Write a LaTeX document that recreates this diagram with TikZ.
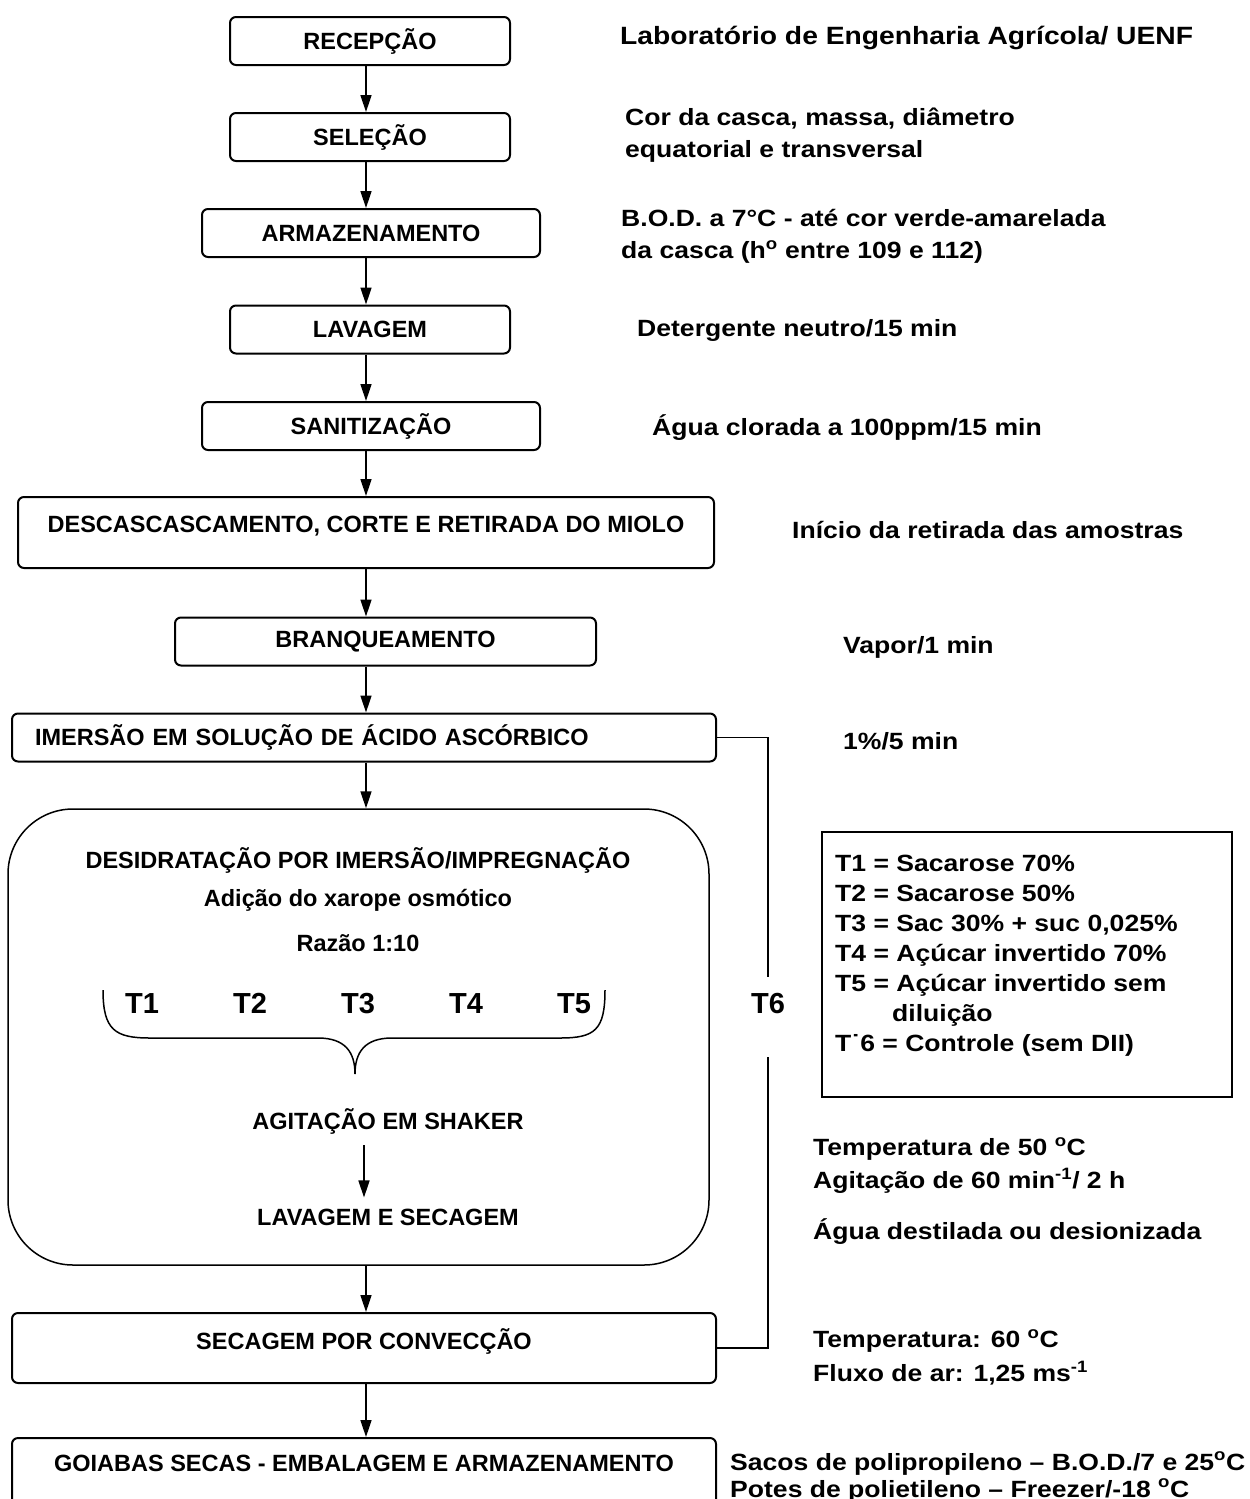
\documentclass[tikz,border=0pt]{standalone}
\usepackage{fontspec}
\setmainfont{Liberation Sans}
\newfontfamily\widefont{Liberation Sans}[FakeStretch=1.13]
\usepackage{tikz}
\usetikzlibrary{shapes, arrows.meta, positioning}
\newcommand{\expo}[1]{\textsuperscript{#1}}

\begin{document}
\begin{tikzpicture}
  [
    x=1pt, y=-1pt,
    font=\bfseries\fontsize{23.5}{28}\selectfont,
    StepBox/.style={rectangle, draw=black, line width=2pt, rounded corners=6pt, minimum height=48pt, inner sep=0pt},
    Note/.style={anchor=west, align=left, inner sep=0pt, font=\widefont\bfseries\fontsize{23.5}{32}\selectfont},
    Tee/.style={inner sep=0pt, anchor=base, font=\bfseries\fontsize{29}{34}\selectfont},
    Flow/.style={-{Triangle[length=17pt, width=11pt]}, line width=1.5pt},
    Link/.style={line width=1.5pt}
  ]
  \useasboundingbox (0, 0) rectangle (1250, 1499);
  \clip (0, 0) rectangle (1250, 1499);
  \coordinate (ax) at (366, 0);
  \coordinate (bx) at (364, 0);
  % Nodes
  \node[StepBox, minimum width=280pt] (rec) at (370, 41) {RECEPÇÃO};
  \node[StepBox, minimum width=280pt] (sel) at (370, 137) {SELEÇÃO};
  \node[StepBox, minimum width=338pt] (arm) at (371, 233) {ARMAZENAMENTO};
  \node[StepBox, minimum width=280pt] (lav) at (370, 329.5) {LAVAGEM};
  \node[StepBox, minimum width=338pt] (san) at (371, 426) {SANITIZAÇÃO};
  \node[StepBox, minimum width=696pt, text height=35.5pt, text depth=35.5pt] (desc) at (366, 532.5) {DESCASCASCAMENTO, CORTE E RETIRADA DO MIOLO};
  \node[StepBox, minimum width=421pt] (bra) at (385.5, 641.5) {BRANQUEAMENTO};
  \node[StepBox, text width=658pt, inner xsep=23pt, align=left] (imer) at (364, 737.5) {IMERSÃO EM SOLUÇÃO DE ÁCIDO ASCÓRBICO};
  \node[draw=black, line width=1.5pt, rounded corners=65pt, minimum width=701pt, minimum height=456pt, inner sep=0pt] (desbox) at (358.5, 1037) {};
  \node[inner sep=0pt] (desi) at (358, 860) {DESIDRATAÇÃO POR IMERSÃO/IMPREGNAÇÃO};
  \node[inner sep=0pt] (adi) at (358, 900) {Adição do xarope osmótico};
  \node[inner sep=0pt] (raz) at (358, 943) {Razão 1:10};
  \node[Tee] (t1) at (142, 1013.5) {T1};
  \node[Tee] (t2) at (250, 1013.5) {T2};
  \node[Tee] (t3) at (358, 1013.5) {T3};
  \node[Tee] (t4) at (466, 1013.5) {T4};
  \node[Tee] (t5) at (574, 1013.5) {T5};
  \node[inner xsep=0pt, inner ysep=11pt] (agit) at (388, 1121) {AGITAÇÃO EM SHAKER};
  \node[inner xsep=0pt, inner ysep=11pt] (lavs) at (388, 1217) {LAVAGEM E SECAGEM};
  \node[StepBox, minimum width=704pt, text height=36.5pt, text depth=33.5pt] (seca) at (364, 1348) {SECAGEM POR CONVECÇÃO};
  \node[StepBox, minimum width=704pt, text height=33.5pt, text depth=40pt, anchor=north] (goia) at (364, 1437) {GOIABAS SECAS - EMBALAGEM E ARMAZENAMENTO};
  \node[Tee, text height=36.5pt, text depth=43.5pt, anchor=north] (t6) at (768, 977) {T6};
  % Notes
  \node[Note, font=\widefont\bfseries\fontsize{25}{32}\selectfont] (n1) at (620, 38) {Laboratório de Engenharia Agrícola/ UENF};
  \node[Note] (n2) at (625, 135) {Cor da casca, massa, diâmetro\\equatorial e transversal};
  \node[Note] (n3) at (621, 236) {B.O.D. a 7°C - até cor verde-amarelada\\da casca (h\expo{o} entre 109 e 112)};
  \node[Note] (n4) at (637, 330) {Detergente neutro/15 min};
  \node[Note] (n5) at (652, 428) {Água clorada a 100ppm/15 min};
  \node[Note] (n6) at (792, 530) {Início da retirada das amostras};
  \node[Note] (n7) at (843, 647) {Vapor/1 min};
  \node[Note] (n8) at (843, 741) {1\%/5 min};
  \node[draw=black, line width=2pt, minimum width=410pt, minimum height=265pt, inner sep=0pt] (leg) at (1027, 964.5) {};
  \node[Note, anchor=north west, font=\widefont\bfseries\fontsize{23.5}{30}\selectfont] (legt) at (835, 855) {T1 = Sacarose 70\%\\T2 = Sacarose 50\%\\T3 = Sac 30\% + suc 0,025\%\\T4 = Açúcar invertido 70\%\\T5 = Açúcar invertido sem\\\hspace*{57pt}diluição\\T˙6 = Controle (sem DII)};
  \node[Note, font=\widefont\bfseries\fontsize{23.5}{33}\selectfont] (n9) at (813, 1166) {Temperatura de 50 \expo{o}C\\Agitação de 60 min\expo{-1}/ 2 h};
  \node[Note] (n10) at (813, 1232) {Água destilada ou desionizada};
  \node[Note, font=\widefont\bfseries\fontsize{23.5}{34}\selectfont] (n11) at (813, 1357) {Temperatura: 60 \expo{o}C\\Fluxo de ar: 1,25 ms\expo{-1}};
  \node[Note, font=\widefont\bfseries\fontsize{23.5}{27}\selectfont] (n12) at (730, 1477) {Sacos de polipropileno – B.O.D./7 e 25\expo{o}C\\Potes de polietileno – Freezer/-18 \expo{o}C};
  % Lines
  \draw[Flow] (rec.south -| ax) -- (sel.north -| ax);
  \draw[Flow] (sel.south -| ax) -- (arm.north -| ax);
  \draw[Flow] (arm.south -| ax) -- (lav.north -| ax);
  \draw[Flow] (lav.south -| ax) -- (san.north -| ax);
  \draw[Flow] (san.south -| ax) -- (desc.north -| ax);
  \draw[Flow] (desc.south -| ax) -- (bra.north -| ax);
  \draw[Flow] (bra.south -| ax) -- (imer.north -| ax);
  \draw[Flow] (imer.south -| ax) -- (desbox.north -| ax);
  \draw[Flow] (agit.south -| bx) -- (lavs.north -| bx);
  \draw[Flow] (desbox.south -| ax) -- (seca.north -| ax);
  \draw[Flow] (seca.south -| ax) -- (goia.north -| ax);
  \draw[Link] (imer.east) -| (t6.north);
  \draw[Link] (t6.south) |- (seca.east);
  \draw[Link] (103, 990) .. controls (103, 1030) and (115, 1038) .. (150, 1038) -- (318, 1038)
    .. controls (345, 1038) and (355, 1052) .. (355, 1074)
    .. controls (355, 1052) and (365, 1038) .. (392, 1038) -- (560, 1038)
    .. controls (595, 1038) and (605, 1030) .. (605, 990);
\end{tikzpicture}
\end{document}
